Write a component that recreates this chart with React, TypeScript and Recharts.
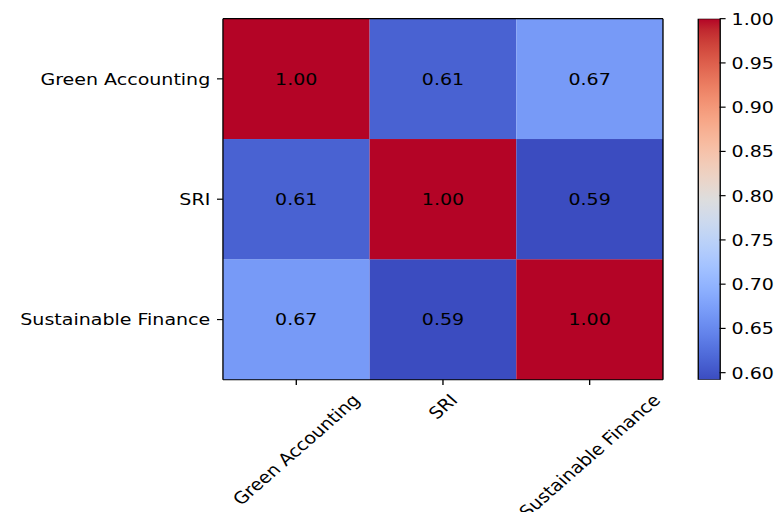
import React from 'react';
import { BarChart, Bar, XAxis, YAxis } from 'recharts';

// ---------- data ----------
const CATEGORIES = ['Green Accounting', 'SRI', 'Sustainable Finance'];
const ROW_GREEN_ACCOUNTING = [1.0, 0.612, 0.668];
const ROW_SRI = [0.612, 1.0, 0.592];
const ROW_SUSTAINABLE_FINANCE = [0.668, 0.592, 1.0];
const MATRIX = [ROW_GREEN_ACCOUNTING, ROW_SRI, ROW_SUSTAINABLE_FINANCE];
const COLORBAR_TICKS = [0.6, 0.65, 0.7, 0.75, 0.8, 0.85, 0.9, 0.95, 1.0];
const X_TICKS = [0.5, 1.5, 2.5];

const allVals = MATRIX.flat();
const VMIN = Math.min(...allVals);
const VMAX = Math.max(...allVals);

// ---------- coolwarm colormap ----------
const CW: number[][] = [
  [59, 76, 192], [68, 90, 204], [77, 104, 215], [87, 117, 225], [98, 130, 234],
  [108, 142, 241], [119, 154, 247], [130, 165, 251], [141, 176, 254], [152, 185, 255],
  [163, 194, 255], [174, 201, 253], [184, 208, 249], [194, 213, 244], [204, 217, 238],
  [213, 219, 230], [221, 221, 221], [229, 216, 209], [236, 211, 197], [241, 204, 185],
  [245, 196, 173], [247, 187, 160], [247, 177, 148], [247, 166, 135], [244, 154, 123],
  [241, 141, 111], [236, 127, 99], [229, 112, 88], [222, 96, 77], [213, 80, 66],
  [203, 62, 56], [192, 40, 47], [180, 4, 38],
];
function coolwarm(t: number): string {
  const tt = Math.max(0, Math.min(1, t)) * (CW.length - 1);
  const i = Math.min(CW.length - 2, Math.floor(tt));
  const f = tt - i;
  const c = CW[i].map((a, k) => Math.round(a + (CW[i + 1][k] - a) * f));
  return `rgb(${c[0]},${c[1]},${c[2]})`;
}
const colorFor = (v: number) => coolwarm((v - VMIN) / (VMAX - VMIN));

const rows = CATEGORIES.map((name, i) => ({
  name,
  v0: MATRIX[i][0],
  v1: MATRIX[i][1],
  v2: MATRIX[i][2],
  s0: 1,
  s1: 1,
  s2: 1,
}));
const cbData = [{ name: 'cb', range: [VMIN, VMAX] }];

const FONT = "'DejaVu Sans', sans-serif";
const FS = 15.6;
const INK = '#000';

let ctx: CanvasRenderingContext2D | null = null;
function measure(text: string): number {
  try {
    if (!ctx) ctx = document.createElement('canvas').getContext('2d');
    if (ctx) {
      ctx.font = `${FS}px 'DejaVu Sans'`;
      return ctx.measureText(text).width;
    }
  } catch (e) {}
  return text.length * FS * 0.6;
}

const makeCell = (j: number) => (props: any) => {
  const { x, y, width, height, payload } = props;
  const v = payload[`v${j}`] as number;
  return (
    <g>
      <rect x={x} y={y} width={width} height={height} fill={colorFor(v)} />
      <text
        x={x + width / 2}
        y={y + height / 2}
        dy="0.35em"
        textAnchor="middle"
        fontSize={FS}
        fontFamily={FONT}
        fill={INK}
      >
        {v.toFixed(2)}
      </text>
    </g>
  );
};

const XTick = (props: any) => {
  const { x, y, payload } = props;
  const label = CATEGORIES[Math.floor(payload.value)];
  const w = measure(label);
  const h = FS * 1.164;
  const top = y + 4.9;
  const cy = top + ((w + h) * Math.SQRT1_2) / 2;
  return (
    <text
      x={x}
      y={cy}
      dy="0.35em"
      textAnchor="middle"
      fontSize={FS}
      fontFamily={FONT}
      fill={INK}
      transform={`rotate(-45, ${x}, ${cy})`}
    >
      {label}
    </text>
  );
};

export default function App() {
  return (
    <div
      style={{
        position: 'absolute',
        left: 0,
        top: 0,
        width: 781,
        height: 512,
        overflow: 'hidden',
        background: '#fff',
        fontFamily: FONT,
      }}
    >
      <div
        style={{
          position: 'relative',
          width: 640,
          height: 480,
          transform: 'scale(1.2203, 1.0667)',
          transformOrigin: '0 0',
        }}
      >
        <div style={{ position: 'absolute', left: 0, top: 0 }}>
          <BarChart
            width={560}
            height={480}
            data={rows}
            layout="vertical"
            margin={{ top: 16.5, right: 15.7, bottom: 0, left: 0 }}
            barCategoryGap={0}
            barGap={0}
          >
            <XAxis
              type="number"
              domain={[0, 3]}
              ticks={X_TICKS}
              height={124}
              tickSize={4.9}
              tickMargin={0}
              axisLine={{ stroke: INK, strokeWidth: 1.1 }}
              tickLine={{ stroke: INK, strokeWidth: 1.1 }}
              tick={<XTick />}
              interval={0}
              allowDataOverflow
            />
            <XAxis
              xAxisId="top"
              orientation="top"
              type="number"
              domain={[0, 3]}
              height={1}
              tick={false}
              tickLine={false}
              axisLine={{ stroke: INK, strokeWidth: 1.1 }}
            />
            <YAxis
              type="category"
              dataKey="name"
              width={182.7}
              tickSize={4.9}
              tickMargin={5.5}
              axisLine={{ stroke: INK, strokeWidth: 1.1 }}
              tickLine={{ stroke: INK, strokeWidth: 1.1 }}
              tick={{ fontSize: FS, fill: INK, fontFamily: FONT }}
              interval={0}
            />
            <YAxis
              yAxisId="r"
              orientation="right"
              type="category"
              dataKey="name"
              width={1}
              tick={false}
              tickLine={false}
              axisLine={{ stroke: INK, strokeWidth: 1.1 }}
            />
            {[0, 1, 2].map((j) => (
              <Bar
                key={j}
                dataKey={`s${j}`}
                stackId="m"
                isAnimationActive={false}
                shape={makeCell(j)}
              />
            ))}
          </BarChart>
        </div>
        <div style={{ position: 'absolute', left: 540, top: 0 }}>
          <BarChart
            width={100}
            height={480}
            data={cbData}
            margin={{ top: 17.5, right: 0, bottom: 124, left: 32.2 }}
            barCategoryGap={0}
            barGap={0}
          >
            <defs>
              <linearGradient id="cwgrad" x1="0" y1="1" x2="0" y2="0">
                {CW.map((c, i) => (
                  <stop
                    key={i}
                    offset={`${(i / (CW.length - 1)) * 100}%`}
                    stopColor={`rgb(${c[0]},${c[1]},${c[2]})`}
                  />
                ))}
              </linearGradient>
            </defs>
            <XAxis dataKey="name" hide />
            <YAxis
              orientation="right"
              type="number"
              domain={[VMIN, VMAX]}
              ticks={COLORBAR_TICKS}
              allowDataOverflow
              width={50.3}
              tickSize={4.9}
              tickMargin={4.9}
              axisLine={false}
              tickLine={{ stroke: INK, strokeWidth: 1.1 }}
              tick={{ fontSize: FS, fill: INK, fontFamily: FONT }}
              tickFormatter={(v: number) => v.toFixed(2)}
              interval={0}
            />
            <Bar
              dataKey="range"
              fill="url(#cwgrad)"
              stroke={INK}
              strokeWidth={1.1}
              isAnimationActive={false}
            />
          </BarChart>
        </div>
      </div>
    </div>
  );
}
